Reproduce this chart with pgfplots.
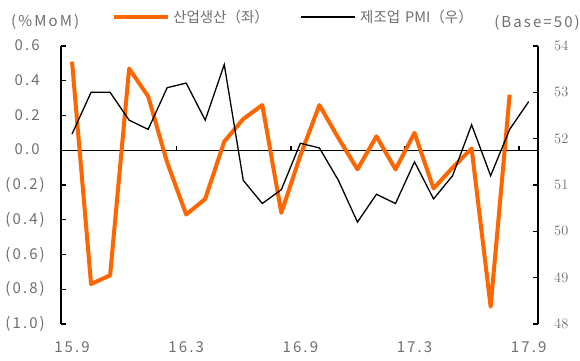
\documentclass[border=0pt]{standalone}
\usepackage{pgfplots}
\usepackage{pgfplotstable}
\pgfplotsset{compat=1.18}
\usepackage{fontspec}
\setmainfont{Noto Sans CJK KR}
\newfontfamily\tickfont[LetterSpace=14]{Noto Sans CJK KR}
\definecolor{orng}{RGB}{255,102,0}
\definecolor{txtgray}{RGB}{110,110,110}

\pgfplotstableread{
x y
0 0.51
1 -0.77
2 -0.72
3 0.47
4 0.31
5 -0.07
6 -0.37
7 -0.28
8 0.05
9 0.18
10 0.26
11 -0.36
12 -0.03
13 0.26
14 0.07
15 -0.11
16 0.08
17 -0.11
18 0.10
19 -0.22
20 -0.10
21 0.01
22 -0.90
23 0.32
}\ipdata

\pgfplotstableread{
x y
0 52.1
1 53.0
2 53.0
3 52.4
4 52.2
5 53.1
6 53.2
7 52.4
8 53.6
9 51.1
10 50.6
11 50.9
12 51.9
13 51.8
14 51.1
15 50.2
16 50.8
17 50.6
18 51.5
19 50.7
20 51.2
21 52.3
22 51.2
23 52.2
24 52.8
}\pmidata

\pgfplotsset{
  common/.style={
    at={(61pt,36pt)}, anchor=south west,
    scale only axis, width=477pt, height=278pt,
    xmin=-0.58, xmax=24.49,
    tick align=inside, major tick length=5pt,
    y axis line style={line width=1.4pt},
    y tick style={line width=1.4pt, black},
    ticklabel style={font=\tickfont\fontsize{15}{18}\selectfont, text=txtgray, inner sep=0pt},
    clip=false,
  }
}

\begin{document}
\begin{tikzpicture}[x=1pt,y=1pt]
\path[use as bounding box] (0,0) rectangle (580,360);
\begin{axis}[common,
  ymin=-1, ymax=0.6,
  axis y line*=left, axis x line*=bottom,
  x axis line style={draw=none},
  x tick style={draw=none},
  xtick={0,6,12,18,24}, xticklabels={15.9,16.3,16.9,17.3,17.9},
  ytick={-1,-0.8,-0.6,-0.4,-0.2,0,0.2,0.4,0.6},
  yticklabels={(1.0),(0.8),(0.6),(0.4),(0.2),0.0\phantom{)},0.2\phantom{)},0.4\phantom{)},0.6\phantom{)}},
  yticklabel style={xshift=-16pt},
  xticklabel style={yshift=-17pt},
]
\draw[line width=1.4pt] (axis cs:-0.58,0) -- (axis cs:24.49,0);
\pgfplotsinvokeforeach{5.5,11.5,17.5,23.5}{\draw[line width=1.4pt] (axis cs:#1,0) -- (axis cs:#1,0.025);}
\addplot[orng, line width=4pt, line join=round, mark=none] table[x=x,y=y]{\ipdata};
\end{axis}
\begin{axis}[common,
  ymin=48, ymax=54,
  axis y line*=right, axis x line=none,
  ytick={48,49,50,51,52,53,54},
  yticklabel style={xshift=16pt},
]
\addplot[black, line width=1.3pt, mark=none] table[x=x,y=y]{\pmidata};
\end{axis}
\draw[orng, line width=4pt] (114,343) -- (168,343);
\node[anchor=west, inner sep=0pt, text=txtgray, font=\fontsize{14.5}{16}\selectfont] at (173,343) {산업생산（좌）};
\draw[black, line width=1.3pt] (301,343) -- (355,343);
\node[anchor=west, inner sep=0pt, text=txtgray, font=\fontsize{14.5}{16}\selectfont] at (360,343) {제조업\hspace{5pt}PMI（우）};
\node[anchor=west, inner sep=0pt, text=txtgray, font=\tickfont\fontsize{15}{18}\selectfont] at (11,338) {(\%MoM)};
\node[anchor=east, inner sep=0pt, text=txtgray, font=\tickfont\fontsize{15}{18}\selectfont] at (580,337) {(Base=50)};
\end{tikzpicture}
\end{document}
